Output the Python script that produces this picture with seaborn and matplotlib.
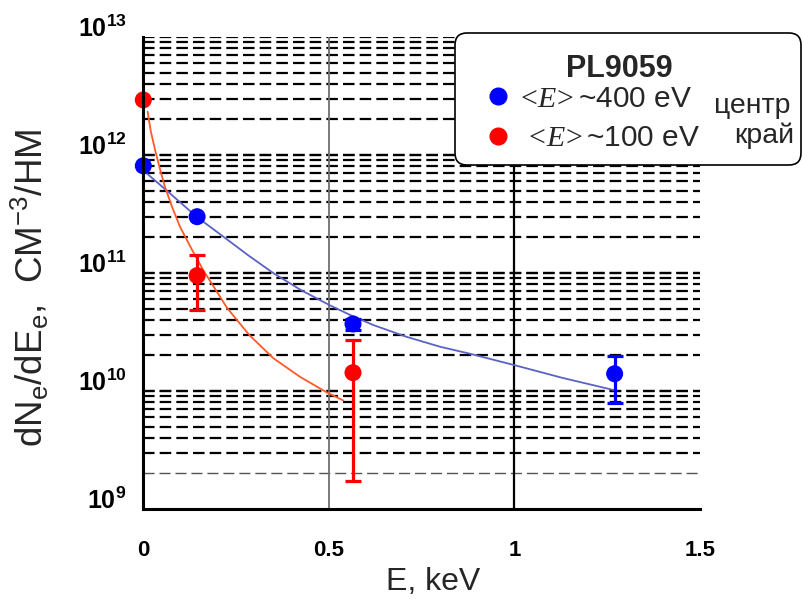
import numpy as np
import pandas as pd
import matplotlib
matplotlib.use("Agg")
import matplotlib.pyplot as plt
import seaborn as sns
from matplotlib.ticker import LogLocator, NullFormatter, FixedLocator
from matplotlib.lines import Line2D
from matplotlib.patches import FancyBboxPatch

# ---------------- data ----------------
E_center = [0.0, 0.145, 0.565, 1.27]
N_center = [8.1e11, 3.0e11, 3.7e10, 1.4e10]
E_center_err = [0.565, 1.27]
center_err_low = [3.3e10, 7.9e9]
center_err_high = [4.1e10, 1.97e10]

E_edge = [0.0, 0.145, 0.565]
N_edge = [2.93e12, 9.5e10, 1.43e10]
E_edge_err = [0.145, 0.565]
edge_err_low = [4.9e10, 1.73e9]
edge_err_high = [1.41e11, 2.72e10]

fit_center_E = [0.0, 0.063, 0.144, 0.215, 0.283, 0.350, 0.425, 0.503, 0.560, 0.619,
                0.709, 0.800, 0.880, 1.002, 1.130, 1.267]
fit_center_N = [7.4e11, 5.0e11, 2.99e11, 2.04e11, 1.41e11, 1.0e11, 7.16e10, 5.32e10,
                4.37e10, 3.63e10, 2.88e10, 2.37e10, 2.07e10, 1.65e10, 1.29e10, 1.02e10]

fit_edge_E = [0.0116, 0.020, 0.0318, 0.045, 0.058, 0.078, 0.099, 0.130, 0.162, 0.195,
              0.225, 0.255, 0.287, 0.350, 0.422, 0.494, 0.539]
fit_edge_N = [2.33e12, 1.6e12, 1.10e12, 7.6e11, 5.4e11, 3.6e11, 2.46e11, 1.60e11,
              1.05e11, 7.2e10, 5.1e10, 3.9e10, 2.95e10, 1.9e10, 1.32e10, 9.75e9, 8.3e9]

x_ticks = [0, 0.5, 1, 1.5]
x_tick_labels = ["0", "0.5", "1", "1.5"]
y_ticks = [1e9, 1e10, 1e11, 1e12, 1e13]
y_tick_labels = [r"$10^{9}$", r"$10^{10}$", r"$10^{11}$", r"$10^{12}$", r"$10^{13}$"]

legend_title = "PL9059"
label_center = r"$\mathrm{<}\!\mathit{E}\!\mathrm{>}$~400 eV"
label_edge = r" $\mathrm{<}\!\mathit{E}\!\mathrm{>}$~100 eV"
note_center = "центр"
note_edge = "край"

# ---------------- style ----------------
sns.set_style("white")
plt.rcParams["font.family"] = ["Liberation Sans", "DejaVu Sans"]
plt.rcParams["mathtext.fontset"] = "custom"
plt.rcParams["mathtext.rm"] = "Liberation Serif"
plt.rcParams["mathtext.it"] = "Liberation Serif:italic"
plt.rcParams["mathtext.default"] = "regular"

BLUE = "#0000ff"
RED = "#ff0000"
BLUE_FIT = "#5a62c4"
RED_FIT = "#ff5a28"

fig = plt.figure(figsize=(8.02, 5.99), dpi=100)
ax = fig.add_axes([143.3 / 802, 1 - 509 / 599, (700 - 143.3) / 802, (509 - 37) / 599])
ax.set_yscale("log")
ax.set_xlim(0, 1.5)
ax.set_ylim(1e9, 1e13)

# horizontal dashed grid
for dec in [9, 10, 11, 12]:
    for m in range(1, 11):
        v = m * 10.0 ** dec
        if v <= 1e9 or v > 1e13:
            continue
        if v == 2e9:
            ax.axhline(v, color="#555555", lw=1.0, ls=(0, (8, 3.5)), zorder=1)
        else:
            ax.axhline(v, color="black", lw=1.6, ls=(0, (5.2, 2.3)), zorder=1)
ax.axvline(0.5, color="#6e6e6e", lw=1.3, zorder=1)
ax.axvline(1.0, color="black", lw=1.6, zorder=1)

# fit curves
df_fc = pd.DataFrame({"E": fit_center_E, "N": fit_center_N})
df_fe = pd.DataFrame({"E": fit_edge_E, "N": fit_edge_N})
sns.lineplot(data=df_fc, x="E", y="N", ax=ax, sort=False, estimator=None,
             color=BLUE_FIT, lw=1.3, zorder=3)
sns.lineplot(data=df_fe, x="E", y="N", ax=ax, sort=False, estimator=None,
             color=RED_FIT, lw=1.3, zorder=3)

# error bars
ec = np.array(N_center)[[2, 3]]
ax.errorbar(E_center_err, ec,
            yerr=[ec - np.array(center_err_low), np.array(center_err_high) - ec],
            fmt="none", ecolor=BLUE, elinewidth=2.3, capsize=6, capthick=2.3, zorder=4)
ee = np.array(N_edge)[[1, 2]]
ax.errorbar(E_edge_err, ee,
            yerr=[ee - np.array(edge_err_low), np.array(edge_err_high) - ee],
            fmt="none", ecolor=RED, elinewidth=2.3, capsize=6, capthick=2.3, zorder=4)

# points
sns.scatterplot(x=E_center, y=N_center, ax=ax, color=BLUE, s=150, edgecolor="none",
                zorder=5, clip_on=False)
sns.scatterplot(x=E_edge, y=N_edge, ax=ax, color=RED, s=150, edgecolor="none",
                zorder=5, clip_on=False)

# spines / ticks
for s in ["top", "right"]:
    ax.spines[s].set_visible(False)
for s in ["left", "bottom"]:
    ax.spines[s].set_linewidth(2.2)
    ax.spines[s].set_color("black")
    ax.spines[s].set_zorder(6)

ax.set_xticks(x_ticks, x_tick_labels, fontsize=16, fontweight="bold")
ax.xaxis.set_minor_locator(FixedLocator([0.25, 0.75, 1.25]))
ax.tick_params(axis="x", which="major", direction="inout", length=18, width=2, pad=13, colors="black")
ax.tick_params(axis="x", which="minor", direction="out", length=6, width=2, colors="black")

ax.set_yticks(y_ticks, y_tick_labels, fontsize=18, fontweight="bold")
for lbl in ax.get_yticklabels():
    lbl.set_verticalalignment("baseline")
ax.yaxis.set_minor_locator(LogLocator(base=10, subs=range(2, 10)))
ax.yaxis.set_minor_formatter(NullFormatter())
ax.tick_params(axis="y", which="major", direction="out", length=11, width=2, pad=1, colors="black")
ax.tick_params(axis="y", which="minor", direction="inout", length=10, width=2, colors="black")

ax.set_xlabel("E, keV", fontsize=23)
ax.xaxis.set_label_coords(0.52, -0.122)
ax.set_ylabel(r"dN$_e$/dE$_e$,  СМ$^{-3}$/НМ", fontsize=26.5)
ax.yaxis.set_label_coords(-0.165, 0.468)

# legend box
box = FancyBboxPatch((4.55, (599 - 165) / 100), 3.46, 1.32,
                     boxstyle="round,pad=0,rounding_size=0.12",
                     transform=fig.dpi_scale_trans, fc="white", ec="black", lw=1.2,
                     zorder=10)
fig.add_artist(box)

handles = [Line2D([], [], marker="o", ls="", color=BLUE, markersize=12),
           Line2D([], [], marker="o", ls="", color=RED, markersize=12)]
leg = fig.legend(handles, [label_center, label_edge], loc="center left",
                 bbox_to_anchor=(477 / 802, 1 - 118.5 / 599), frameon=False,
                 fontsize=21.5, handletextpad=0.12, handlelength=1.0,
                 labelspacing=0.38, borderpad=0.2, borderaxespad=0)
leg.set_zorder(11)
fig.text(619 / 802, 1 - 69 / 599, legend_title, fontsize=22, fontweight="bold",
         ha="center", va="center", zorder=12)
fig.text(714 / 802, 1 - 113 / 599, note_center, fontsize=20.5, zorder=12, va="baseline")
fig.text(734 / 802, 1 - 143 / 599, note_edge, fontsize=20.5, zorder=12, va="baseline")

fig.savefig("out.png", dpi=100)
